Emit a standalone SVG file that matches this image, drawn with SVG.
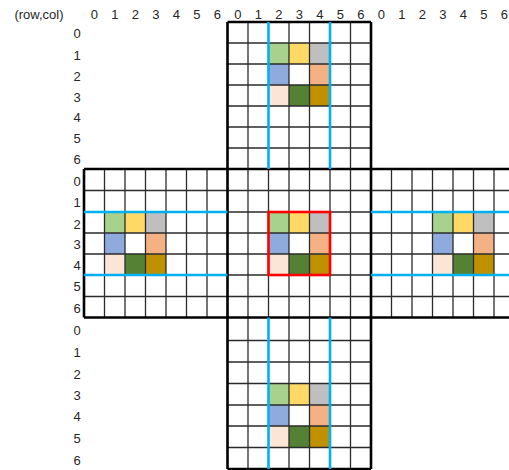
<svg xmlns="http://www.w3.org/2000/svg" width="509" height="470" viewBox="0 0 509 470">
<style>
text{font-family:"Liberation Sans",Arial,sans-serif;font-size:13px;fill:#262626;text-anchor:middle}
.g{stroke:#2b2b2b;stroke-width:1.3;fill:none}
.k{stroke:#000;stroke-width:2.6;fill:none}
.b{stroke:#00B0F0;stroke-width:2.6;fill:none}
.c1{fill:#A9D18E}.c2{fill:#FFD966}.c3{fill:#BFBFBF}.c4{fill:#8FAADC}.c5{fill:#F4B183}.c6{fill:#FBE5D6}.c7{fill:#548235}.c8{fill:#BF9000}
</style>
<rect width="509" height="470" fill="#fff"/>
<g id="labels">
<text x="39" y="19">(row,col)</text>
<text x="94.3" y="19">0</text><text x="114.8" y="19">1</text><text x="135.3" y="19">2</text><text x="155.8" y="19">3</text><text x="176.3" y="19">4</text><text x="196.8" y="19">5</text><text x="217.3" y="19">6</text>
<text x="237.8" y="19">0</text><text x="258.3" y="19">1</text><text x="278.8" y="19">2</text><text x="299.3" y="19">3</text><text x="319.8" y="19">4</text><text x="340.3" y="19">5</text><text x="360.8" y="19">6</text>
<text x="381.3" y="19">0</text><text x="401.8" y="19">1</text><text x="422.3" y="19">2</text><text x="442.8" y="19">3</text><text x="463.3" y="19">4</text><text x="483.8" y="19">5</text><text x="504.3" y="19">6</text>
<text x="77" y="38">0</text><text x="77" y="60">1</text><text x="77" y="81">2</text><text x="77" y="101.5">3</text><text x="77" y="122">4</text><text x="77" y="142.5">5</text><text x="77" y="163.5">6</text>
<text x="77" y="186">0</text><text x="77" y="207">1</text><text x="77" y="228.5">2</text><text x="77" y="249">3</text><text x="77" y="270">4</text><text x="77" y="290.5">5</text><text x="77" y="312.5">6</text>
<text x="77" y="334.5">0</text><text x="77" y="356.5">1</text><text x="77" y="378.5">2</text><text x="77" y="399.5">3</text><text x="77" y="420.5">4</text><text x="77" y="442.5">5</text><text x="77" y="464.5">6</text>
</g>
<g id="top">
<rect class="c1" x="268.5" y="43" width="20.5" height="21"/><rect class="c2" x="289" y="43" width="20.5" height="21"/><rect class="c3" x="309.5" y="43" width="20.5" height="21"/>
<rect class="c4" x="268.5" y="64" width="20.5" height="21"/><rect class="c5" x="309.5" y="64" width="20.5" height="21"/>
<rect class="c6" x="268.5" y="85" width="20.5" height="21"/><rect class="c7" x="289" y="85" width="20.5" height="21"/><rect class="c8" x="309.5" y="85" width="20.5" height="21"/>
<path class="g" d="M248 22V169M289 22V169M309.5 22V169M350.5 22V169M227.5 43H371M227.5 64H371M227.5 85H371M227.5 106H371M227.5 127H371M227.5 148H371"/>
</g>
<g id="left">
<rect class="c1" x="104.5" y="212" width="20.5" height="21"/><rect class="c2" x="125" y="212" width="20.5" height="21"/><rect class="c3" x="145.5" y="212" width="20.5" height="21"/>
<rect class="c4" x="104.5" y="233" width="20.5" height="21"/><rect class="c5" x="145.5" y="233" width="20.5" height="21"/>
<rect class="c6" x="104.5" y="254" width="20.5" height="21"/><rect class="c7" x="125" y="254" width="20.5" height="21"/><rect class="c8" x="145.5" y="254" width="20.5" height="21"/>
<path class="g" d="M104.5 169V317.5M125 169V317.5M145.5 169V317.5M166 169V317.5M186.5 169V317.5M207 169V317.5M84 190.5H227.5M84 233H227.5M84 254H227.5M84 296.5H227.5"/>
</g>
<g id="center">
<rect class="c1" x="268.5" y="212" width="20.5" height="21"/><rect class="c2" x="289" y="212" width="20.5" height="21"/><rect class="c3" x="309.5" y="212" width="20.5" height="21"/>
<rect class="c4" x="268.5" y="233" width="20.5" height="21"/><rect class="c5" x="309.5" y="233" width="20.5" height="21"/>
<rect class="c6" x="268.5" y="254" width="20.5" height="21"/><rect class="c7" x="289" y="254" width="20.5" height="21"/><rect class="c8" x="309.5" y="254" width="20.5" height="21"/>
<path class="g" d="M248 169V317.5M268.5 169V317.5M289 169V317.5M309.5 169V317.5M330 169V317.5M350.5 169V317.5M227.5 190.5H371M227.5 212H371M227.5 233H371M227.5 254H371M227.5 275H371M227.5 296.5H371"/>
</g>
<g id="right">
<rect class="c1" x="432.5" y="212" width="20.5" height="21"/><rect class="c2" x="453" y="212" width="20.5" height="21"/><rect class="c3" x="473.5" y="212" width="20.5" height="21"/>
<rect class="c4" x="432.5" y="233" width="20.5" height="21"/><rect class="c5" x="473.5" y="233" width="20.5" height="21"/>
<rect class="c6" x="432.5" y="254" width="20.5" height="21"/><rect class="c7" x="453" y="254" width="20.5" height="21"/><rect class="c8" x="473.5" y="254" width="20.5" height="21"/>
<path class="g" d="M391.5 169V317.5M412 169V317.5M432.5 169V317.5M453 169V317.5M473.5 169V317.5M494 169V317.5M371 190.5H509M371 233H509M371 254H509M371 296.5H509"/>
</g>
<g id="bottom">
<rect class="c1" x="268.5" y="383.5" width="20.5" height="21.5"/><rect class="c2" x="289" y="383.5" width="20.5" height="21.5"/><rect class="c3" x="309.5" y="383.5" width="20.5" height="21.5"/>
<rect class="c4" x="268.5" y="405" width="20.5" height="21"/><rect class="c5" x="309.5" y="405" width="20.5" height="21"/>
<rect class="c6" x="268.5" y="426" width="20.5" height="21.5"/><rect class="c7" x="289" y="426" width="20.5" height="21.5"/><rect class="c8" x="309.5" y="426" width="20.5" height="21.5"/>
<path class="g" d="M248 317.5V469M289 317.5V469M309.5 317.5V469M350.5 317.5V469M227.5 340.5H371M227.5 362H371M227.5 383.5H371M227.5 405H371M227.5 426H371M227.5 447.5H371"/>
</g>
<g id="outline">
<path class="k" d="M227.5 22H371M227.5 22V469M371 22V469M84 169H509M84 317.5H509M84 169V317.5M227.5 469H371"/>
</g>
<g id="connectors">
<path class="b" d="M268.5 22V169M330 22V169M268.5 317.5V469M330 317.5V469M84 212H227.5M84 275H227.5M371 212H509M371 275H509"/>
<rect x="268.5" y="212" width="61.5" height="63" fill="none" stroke="#FF0000" stroke-width="2.6"/>
</g>
</svg>
